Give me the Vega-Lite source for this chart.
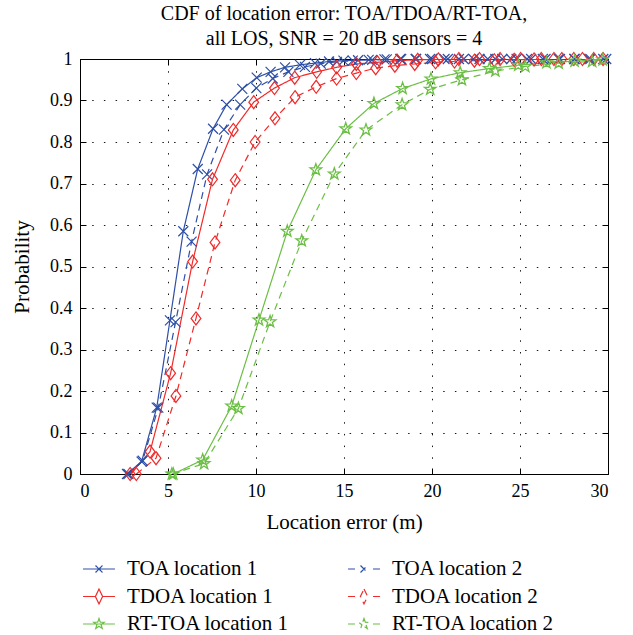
{
  "$schema": "https://vega.github.io/schema/vega-lite/v6.json",
  "autosize": {"type": "none"},
  "width": 528,
  "height": 415,
  "padding": {"left": 80, "top": 59, "right": 25, "bottom": 161},
  "background": "white",
  "title": {
    "text": ["CDF of location error: TOA/TDOA/RT-TOA,", "all LOS, SNR = 20 dB sensors = 4"],
    "font": "Liberation Serif, DejaVu Serif, Times New Roman, serif",
    "fontSize": 20,
    "fontWeight": "normal",
    "lineHeight": 25,
    "offset": 1,
    "anchor": "middle",
    "color": "black"
  },
  "config": {
    "font": "Liberation Serif, DejaVu Serif, Times New Roman, serif",
    "view": {"stroke": "black", "strokeWidth": 1},
    "axis": {
      "labelFont": "Liberation Serif, DejaVu Serif, Times New Roman, serif",
      "titleFont": "Liberation Serif, DejaVu Serif, Times New Roman, serif",
      "labelColor": "black",
      "titleColor": "black",
      "labelFontSize": 18,
      "titleFontSize": 21,
      "titleFontWeight": "normal",
      "domain": false,
      "tickColor": "black",
      "tickSize": -6,
      "tickWidth": 1
    }
  },
  "data": {
    "values": [
      {"series": "TOA location 1", "x": 2.67, "y": 0},
      {"series": "TOA location 1", "x": 3.5, "y": 0.03},
      {"series": "TOA location 1", "x": 4.36, "y": 0.16},
      {"series": "TOA location 1", "x": 5.11, "y": 0.37},
      {"series": "TOA location 1", "x": 5.87, "y": 0.585},
      {"series": "TOA location 1", "x": 6.69, "y": 0.735},
      {"series": "TOA location 1", "x": 7.56, "y": 0.832},
      {"series": "TOA location 1", "x": 8.33, "y": 0.89},
      {"series": "TOA location 1", "x": 9.22, "y": 0.928},
      {"series": "TOA location 1", "x": 10.04, "y": 0.955},
      {"series": "TOA location 1", "x": 10.83, "y": 0.969},
      {"series": "TOA location 1", "x": 11.65, "y": 0.98},
      {"series": "TOA location 1", "x": 12.5, "y": 0.986},
      {"series": "TOA location 1", "x": 13.35, "y": 0.99},
      {"series": "TOA location 1", "x": 14.15, "y": 0.994},
      {"series": "TOA location 1", "x": 14.97, "y": 0.996},
      {"series": "TOA location 1", "x": 15.8, "y": 0.997},
      {"series": "TOA location 1", "x": 16.6, "y": 0.998},
      {"series": "TOA location 1", "x": 17.43, "y": 0.999},
      {"series": "TOA location 1", "x": 18.25, "y": 1},
      {"series": "TOA location 1", "x": 19.07, "y": 1},
      {"series": "TOA location 1", "x": 19.89, "y": 1},
      {"series": "TOA location 1", "x": 20.71, "y": 1},
      {"series": "TOA location 1", "x": 21.53, "y": 1},
      {"series": "TOA location 1", "x": 22.35, "y": 1},
      {"series": "TOA location 1", "x": 23.17, "y": 1},
      {"series": "TOA location 1", "x": 23.99, "y": 1},
      {"series": "TOA location 1", "x": 24.81, "y": 1},
      {"series": "TOA location 1", "x": 25.63, "y": 1},
      {"series": "TOA location 1", "x": 26.45, "y": 1},
      {"series": "TOA location 1", "x": 27.27, "y": 1},
      {"series": "TOA location 1", "x": 28.09, "y": 1},
      {"series": "TOA location 1", "x": 28.91, "y": 1},
      {"series": "TOA location 1", "x": 29.73, "y": 1},
      {"series": "TOA location 2", "x": 2.75, "y": 0},
      {"series": "TOA location 2", "x": 3.56, "y": 0.032},
      {"series": "TOA location 2", "x": 4.45, "y": 0.16},
      {"series": "TOA location 2", "x": 5.43, "y": 0.366},
      {"series": "TOA location 2", "x": 6.34, "y": 0.56},
      {"series": "TOA location 2", "x": 7.22, "y": 0.722},
      {"series": "TOA location 2", "x": 8.18, "y": 0.83},
      {"series": "TOA location 2", "x": 9.1, "y": 0.89},
      {"series": "TOA location 2", "x": 10.02, "y": 0.93},
      {"series": "TOA location 2", "x": 10.95, "y": 0.953},
      {"series": "TOA location 2", "x": 11.84, "y": 0.969},
      {"series": "TOA location 2", "x": 12.78, "y": 0.981},
      {"series": "TOA location 2", "x": 13.68, "y": 0.989},
      {"series": "TOA location 2", "x": 14.6, "y": 0.993},
      {"series": "TOA location 2", "x": 15.5, "y": 0.996},
      {"series": "TOA location 2", "x": 16.4, "y": 0.998},
      {"series": "TOA location 2", "x": 17.3, "y": 0.999},
      {"series": "TOA location 2", "x": 18.2, "y": 1},
      {"series": "TOA location 2", "x": 19.1, "y": 1},
      {"series": "TOA location 2", "x": 20.0, "y": 1},
      {"series": "TOA location 2", "x": 20.9, "y": 1},
      {"series": "TOA location 2", "x": 21.8, "y": 1},
      {"series": "TOA location 2", "x": 22.7, "y": 1},
      {"series": "TOA location 2", "x": 23.6, "y": 1},
      {"series": "TOA location 2", "x": 24.5, "y": 1},
      {"series": "TOA location 2", "x": 25.4, "y": 1},
      {"series": "TOA location 2", "x": 26.3, "y": 1},
      {"series": "TOA location 2", "x": 27.2, "y": 1},
      {"series": "TOA location 2", "x": 28.1, "y": 1},
      {"series": "TOA location 2", "x": 29.0, "y": 1},
      {"series": "TOA location 2", "x": 29.9, "y": 1},
      {"series": "TDOA location 1", "x": 2.85, "y": 0},
      {"series": "TDOA location 1", "x": 3.98, "y": 0.054},
      {"series": "TDOA location 1", "x": 5.15, "y": 0.243},
      {"series": "TDOA location 1", "x": 6.4, "y": 0.512},
      {"series": "TDOA location 1", "x": 7.53, "y": 0.71},
      {"series": "TDOA location 1", "x": 8.71, "y": 0.829},
      {"series": "TDOA location 1", "x": 9.87, "y": 0.896},
      {"series": "TDOA location 1", "x": 11.05, "y": 0.93},
      {"series": "TDOA location 1", "x": 12.2, "y": 0.955},
      {"series": "TDOA location 1", "x": 13.45, "y": 0.969},
      {"series": "TDOA location 1", "x": 14.58, "y": 0.98},
      {"series": "TDOA location 1", "x": 15.7, "y": 0.988},
      {"series": "TDOA location 1", "x": 16.9, "y": 0.992},
      {"series": "TDOA location 1", "x": 18.02, "y": 0.996},
      {"series": "TDOA location 1", "x": 19.19, "y": 0.998},
      {"series": "TDOA location 1", "x": 20.36, "y": 0.999},
      {"series": "TDOA location 1", "x": 21.53, "y": 1},
      {"series": "TDOA location 1", "x": 22.7, "y": 1},
      {"series": "TDOA location 1", "x": 23.87, "y": 1},
      {"series": "TDOA location 1", "x": 25.04, "y": 1},
      {"series": "TDOA location 1", "x": 26.21, "y": 1},
      {"series": "TDOA location 1", "x": 27.38, "y": 1},
      {"series": "TDOA location 1", "x": 28.55, "y": 1},
      {"series": "TDOA location 1", "x": 29.72, "y": 1},
      {"series": "TDOA location 2", "x": 3.2, "y": 0},
      {"series": "TDOA location 2", "x": 4.32, "y": 0.038},
      {"series": "TDOA location 2", "x": 5.45, "y": 0.188},
      {"series": "TDOA location 2", "x": 6.59, "y": 0.375},
      {"series": "TDOA location 2", "x": 7.67, "y": 0.558},
      {"series": "TDOA location 2", "x": 8.82, "y": 0.708},
      {"series": "TDOA location 2", "x": 9.95, "y": 0.8},
      {"series": "TDOA location 2", "x": 11.08, "y": 0.857},
      {"series": "TDOA location 2", "x": 12.22, "y": 0.908},
      {"series": "TDOA location 2", "x": 13.42, "y": 0.933},
      {"series": "TDOA location 2", "x": 14.58, "y": 0.953},
      {"series": "TDOA location 2", "x": 15.7, "y": 0.966},
      {"series": "TDOA location 2", "x": 16.8, "y": 0.978},
      {"series": "TDOA location 2", "x": 17.89, "y": 0.984},
      {"series": "TDOA location 2", "x": 19.02, "y": 0.988},
      {"series": "TDOA location 2", "x": 20.2, "y": 0.992},
      {"series": "TDOA location 2", "x": 21.28, "y": 0.994},
      {"series": "TDOA location 2", "x": 22.41, "y": 0.996},
      {"series": "TDOA location 2", "x": 23.54, "y": 0.997},
      {"series": "TDOA location 2", "x": 24.67, "y": 0.998},
      {"series": "TDOA location 2", "x": 25.8, "y": 0.999},
      {"series": "TDOA location 2", "x": 26.93, "y": 1},
      {"series": "TDOA location 2", "x": 28.06, "y": 1},
      {"series": "TDOA location 2", "x": 29.19, "y": 1},
      {"series": "RT-TOA location 1", "x": 5.3, "y": 0},
      {"series": "RT-TOA location 1", "x": 6.97, "y": 0.034},
      {"series": "RT-TOA location 1", "x": 8.62, "y": 0.164},
      {"series": "RT-TOA location 1", "x": 10.17, "y": 0.371},
      {"series": "RT-TOA location 1", "x": 11.78, "y": 0.585},
      {"series": "RT-TOA location 1", "x": 13.4, "y": 0.733},
      {"series": "RT-TOA location 1", "x": 15.1, "y": 0.832},
      {"series": "RT-TOA location 1", "x": 16.7, "y": 0.893},
      {"series": "RT-TOA location 1", "x": 18.33, "y": 0.929},
      {"series": "RT-TOA location 1", "x": 19.94, "y": 0.952},
      {"series": "RT-TOA location 1", "x": 21.6, "y": 0.967},
      {"series": "RT-TOA location 1", "x": 23.26, "y": 0.977},
      {"series": "RT-TOA location 1", "x": 24.9, "y": 0.985},
      {"series": "RT-TOA location 1", "x": 26.5, "y": 0.991},
      {"series": "RT-TOA location 1", "x": 28.1, "y": 0.995},
      {"series": "RT-TOA location 1", "x": 29.7, "y": 0.998},
      {"series": "RT-TOA location 2", "x": 5.22, "y": 0},
      {"series": "RT-TOA location 2", "x": 7.05, "y": 0.025},
      {"series": "RT-TOA location 2", "x": 9.0, "y": 0.158},
      {"series": "RT-TOA location 2", "x": 10.8, "y": 0.367},
      {"series": "RT-TOA location 2", "x": 12.6, "y": 0.562},
      {"series": "RT-TOA location 2", "x": 14.45, "y": 0.723},
      {"series": "RT-TOA location 2", "x": 16.25, "y": 0.829},
      {"series": "RT-TOA location 2", "x": 18.3, "y": 0.89},
      {"series": "RT-TOA location 2", "x": 19.9, "y": 0.927},
      {"series": "RT-TOA location 2", "x": 21.7, "y": 0.95},
      {"series": "RT-TOA location 2", "x": 23.6, "y": 0.971},
      {"series": "RT-TOA location 2", "x": 25.3, "y": 0.982},
      {"series": "RT-TOA location 2", "x": 27.2, "y": 0.99},
      {"series": "RT-TOA location 2", "x": 29.1, "y": 0.994}
    ]
  },
  "resolve": {"axis": {"x": "independent", "y": "independent"}},
  "layer": [
    {
      "mark": {"type": "line", "strokeWidth": 1.2, "clip": true},
      "encoding": {
        "x": {
          "field": "x", "type": "quantitative",
          "scale": {"domain": [0, 30], "nice": false, "zero": false},
          "axis": {
            "orient": "bottom", "values": [0, 5, 10, 15, 20, 25, 30],
            "title": "Location error (m)", "labelPadding": 14, "titlePadding": 11,
            "grid": true, "gridColor": "black", "gridDash": [1.5, 10.2], "gridWidth": 1, "gridOpacity": 0.9
          }
        },
        "y": {
          "field": "y", "type": "quantitative",
          "scale": {"domain": [0, 1], "nice": false, "zero": false},
          "axis": {
            "orient": "left", "values": [0, 0.1, 0.2, 0.3, 0.4, 0.5, 0.6, 0.7, 0.8, 0.9, 1],
            "format": "~g", "title": "Probability", "labelPadding": 14, "titlePadding": 17,
            "grid": true, "gridColor": "black", "gridDash": [1.5, 10.2], "gridWidth": 1, "gridOpacity": 0.9
          }
        },
        "stroke": {
          "field": "series", "type": "nominal",
          "scale": {
            "domain": ["TOA location 1", "TDOA location 1", "RT-TOA location 1", "TOA location 2", "TDOA location 2", "RT-TOA location 2"],
            "range": ["#2D4FA6", "#F02A2A", "#6CBF45", "#2D4FA6", "#F02A2A", "#6CBF45"]
          },
          "legend": {
            "title": null,
            "orient": "none",
            "legendX": 6,
            "legendY": 497,
            "columns": 2,
            "columnPadding": 55,
            "rowPadding": 4.5,
            "symbolSize": 576,
            "symbolStrokeWidth": 1.2,
            "labelOffset": 15,
            "labelFont": "Liberation Serif, DejaVu Serif, Times New Roman, serif",
            "labelFontSize": 21,
            "labelColor": "black",
            "labelLimit": 300,
            "encode": {
              "symbols": {
                "update": {
                  "fill": {"value": "transparent"},
                  "strokeDash": {"value": [1, 0]},
                  "shape": {"signal": "datum.value == 'TOA location 1' ? 'M-1.33,0L1.33,0M-0.29,-0.29L0.29,0.29M-0.29,0.29L0.29,-0.29' : datum.value == 'TOA location 2' ? 'M-1.33,0L-0.75,0M0.75,0L1.33,0M-0.29,-0.29L0.29,0.29M-0.29,0.29L0.29,-0.29' : datum.value == 'TDOA location 1' ? 'M-1.33,0L-0.3,0M0.3,0L1.33,0M0,-0.62L0.3,0L0,0.62L-0.3,0Z' : datum.value == 'TDOA location 2' ? 'M-1.33,0L-0.75,0M0.75,0L1.33,0M0,-0.62L0.3,0L0,0.62L-0.3,0Z' : datum.value == 'RT-TOA location 1' ? 'M-1.33,0L1.33,0M0,-0.46L0.108,-0.149L0.437,-0.142L0.175,0.057L0.27,0.372L0,0.184L-0.27,0.372L-0.175,0.057L-0.437,-0.142L-0.108,-0.149Z' : 'M-1.33,0L-0.75,0M0.75,0L1.33,0M0,-0.46L0.108,-0.149L0.437,-0.142L0.175,0.057L0.27,0.372L0,0.184L-0.27,0.372L-0.175,0.057L-0.437,-0.142L-0.108,-0.149Z'"}
                }
              }
            }
          }
        },
        "strokeDash": {
          "field": "series", "type": "nominal",
          "scale": {
            "domain": ["TOA location 1", "TDOA location 1", "RT-TOA location 1", "TOA location 2", "TDOA location 2", "RT-TOA location 2"],
            "range": [[1, 0], [1, 0], [1, 0], [7, 5], [7, 5], [7, 5]]
          },
          "legend": null
        }
      }
    },
    {
      "transform": [{"filter": "indexof(datum.series, 'TOA location') == 0"}],
      "mark": {"type": "point", "filled": false, "strokeWidth": 1.2, "size": 100, "opacity": 1, "shape": "M-1,-1L1,1M-1,1L1,-1"},
      "encoding": {
        "x": {
          "field": "x", "type": "quantitative",
          "axis": {"orient": "top", "values": [0, 5, 10, 15, 20, 25, 30], "labels": false, "title": null, "grid": false}
        },
        "y": {
          "field": "y", "type": "quantitative",
          "axis": {"orient": "right", "values": [0, 0.1, 0.2, 0.3, 0.4, 0.5, 0.6, 0.7, 0.8, 0.9, 1], "labels": false, "title": null, "grid": false}
        },
        "stroke": {"field": "series", "type": "nominal"}
      }
    },
    {
      "transform": [{"filter": "indexof(datum.series, 'TDOA') == 0"}],
      "mark": {"type": "point", "filled": false, "strokeWidth": 1.2, "size": 169, "opacity": 1, "shape": "M0,-1L0.75,0L0,1L-0.75,0Z"},
      "encoding": {
        "x": {"field": "x", "type": "quantitative", "axis": null},
        "y": {"field": "y", "type": "quantitative", "axis": null},
        "stroke": {"field": "series", "type": "nominal"}
      }
    },
    {
      "transform": [{"filter": "indexof(datum.series, 'RT-TOA') == 0"}],
      "mark": {"type": "point", "filled": false, "strokeWidth": 1.3, "size": 150, "opacity": 1, "shape": "M0,-1L0.235,-0.324L0.951,-0.309L0.38,0.124L0.588,0.809L0,0.4L-0.588,0.809L-0.38,0.124L-0.951,-0.309L-0.235,-0.324Z"},
      "encoding": {
        "x": {"field": "x", "type": "quantitative", "axis": null},
        "y": {"field": "y", "type": "quantitative", "axis": null},
        "stroke": {"field": "series", "type": "nominal"}
      }
    }
  ]
}
